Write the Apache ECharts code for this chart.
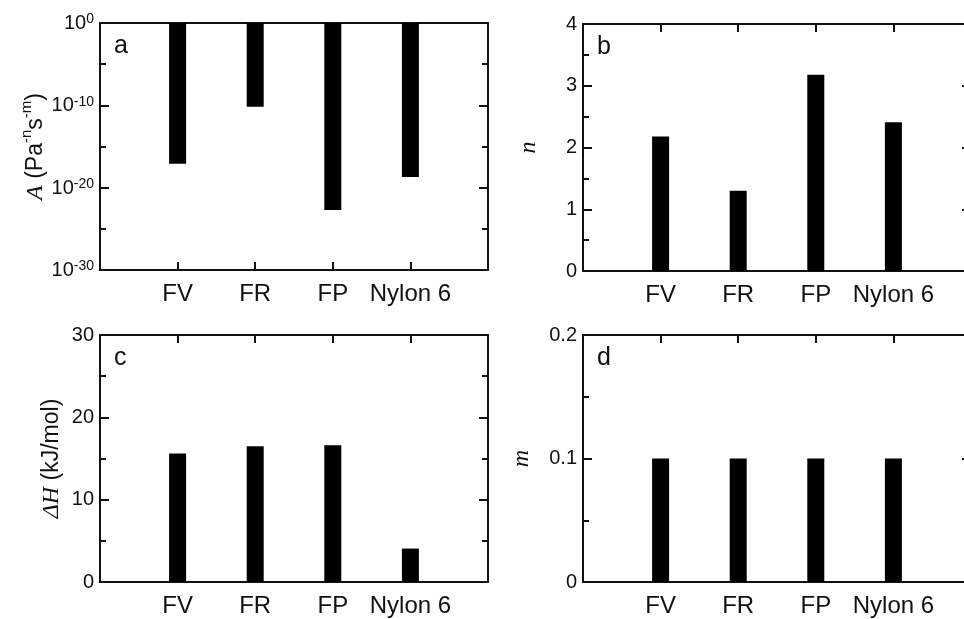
<!DOCTYPE html>
<html><head><meta charset="utf-8">
<script src="https://cdn.jsdelivr.net/npm/echarts@6/dist/echarts.min.js"></script>
<style>html,body{margin:0;padding:0;background:#fff}#c{width:964px;height:619px}</style>
</head><body><div id="c"></div><script>
// ---- data ----
const categories = ['FV', 'FR', 'FP', 'Nylon 6'];
const aValues = [7.9e-18, 6.6e-11, 2.0e-23, 2.0e-19];   // A (Pa^-n s^-m)
const nValues = [2.18, 1.30, 3.18, 2.41];               // n
const dHValues = [15.6, 16.5, 16.6, 4.06];              // ΔH (kJ/mol)
const mValues = [0.1, 0.1, 0.1, 0.1];                   // m
const panelLetters = ['a', 'b', 'c', 'd'];

// ---- styling ----
const SANS = 'Liberation Sans, Arial, sans-serif';
const SERIF = 'Liberation Serif, Times New Roman, serif';
const INK = '#111';
const line = {color: INK, width: 2};
const padded = ['', ...categories, ''];
const padData = arr => ['-', ...arr, '-'];

const grids = [
  {left: 100, top: 23, width: 388, height: 247, outerBoundsMode: 'none'},
  {left: 583, top: 24, width: 388, height: 247, outerBoundsMode: 'none'},
  {left: 100, top: 335, width: 388, height: 247, outerBoundsMode: 'none'},
  {left: 583, top: 335, width: 388, height: 247, outerBoundsMode: 'none'}
];

const supRich = {
  b: {fontSize: 20, fontFamily: SANS, color: INK, lineHeight: 21, verticalAlign: 'bottom'},
  s: {fontSize: 14, fontFamily: SANS, color: INK, lineHeight: 20, verticalAlign: 'top'}
};

const panels = [
  {
    values: aValues.map(v => Math.log10(v)), min: -30, max: 0, interval: 10,
    formatter: v => '{b|10}{s|' + v + '}', rich: supRich, labelLineHeight: 29,
    name: '{i|A}{t| (Pa}{s|-n}{t|s}{s|-m}{t|)}', nameGap: 48,
    nameRich: {
      i: {fontFamily: SERIF, fontStyle: 'italic', fontSize: 24, color: INK, lineHeight: 28, verticalAlign: 'bottom'},
      t: {fontFamily: SANS, fontSize: 23, color: INK, lineHeight: 28, verticalAlign: 'bottom'},
      s: {fontFamily: SANS, fontSize: 15, color: INK, lineHeight: 24, verticalAlign: 'top'}
    }
  },
  {
    values: nValues, min: 0, max: 4, interval: 1,
    name: '{i|n}', nameGap: 42,
    nameRich: {i: {fontFamily: SERIF, fontStyle: 'italic', fontSize: 24, color: INK}}
  },
  {
    values: dHValues, min: 0, max: 30, interval: 10,
    name: '{i|ΔH}{t| (kJ/mol)}', nameGap: 36,
    nameRich: {
      i: {fontFamily: SERIF, fontStyle: 'italic', fontSize: 24, color: INK},
      t: {fontFamily: SANS, fontSize: 23, color: INK}
    }
  },
  {
    values: mValues, min: 0, max: 0.2, interval: 0.1,
    name: '{i|m}', nameGap: 49,
    nameRich: {i: {fontFamily: SERIF, fontStyle: 'italic', fontSize: 24, color: INK}}
  }
];

const xAxis = [], yAxis = [], series = [], title = [];
panels.forEach((p, g) => {
  const xBase = {
    gridIndex: g, type: 'category', data: padded, boundaryGap: false,
    axisLine: {show: true, onZero: false, lineStyle: line},
    axisTick: {show: true, inside: true, length: 8, interval: 0, lineStyle: line},
    splitLine: {show: false}
  };
  xAxis.push(Object.assign({}, xBase, {
    position: 'bottom',
    axisLabel: {show: true, interval: 0, fontSize: 24, fontFamily: SANS, color: INK, margin: 12}
  }));
  xAxis.push(Object.assign({}, xBase, {position: 'top', axisLabel: {show: false}}));

  const yBase = {
    gridIndex: g, type: 'value', min: p.min, max: p.max, interval: p.interval,
    axisLine: {show: true, onZero: false, lineStyle: line},
    axisTick: {show: true, inside: true, length: 9, lineStyle: line},
    minorTick: {show: true, splitNumber: 2, length: 6, lineStyle: line},
    splitLine: {show: false}, minorSplitLine: {show: false}
  };
  yAxis.push(Object.assign({}, yBase, {
    position: 'left',
    axisLabel: Object.assign({show: true, fontSize: 20, fontFamily: SANS, color: INK, margin: 6},
      p.formatter ? {formatter: p.formatter, rich: p.rich, lineHeight: p.labelLineHeight} : {}),
    name: p.name, nameLocation: 'middle', nameGap: p.nameGap, nameRotate: 90,
    nameTextStyle: {fontFamily: SANS, fontSize: 23, color: INK, rich: p.nameRich}
  }));
  yAxis.push(Object.assign({}, yBase, {position: 'right', axisLabel: {show: false}}));

  series.push({
    type: 'bar', xAxisIndex: 2 * g, yAxisIndex: 2 * g,
    data: padData(p.values), barWidth: 17, silent: true,
    itemStyle: {color: '#000'}
  });

  title.push({
    text: panelLetters[g], left: grids[g].left + 14, top: grids[g].top + 11, padding: 0,
    textStyle: {fontFamily: SANS, fontSize: 25, fontWeight: 'normal', color: INK}
  });
});

const chart = echarts.init(document.getElementById('c'), null, {renderer: 'canvas'});
chart.setOption({
  animation: false,
  backgroundColor: '#fff',
  title: title,
  grid: grids,
  xAxis: xAxis,
  yAxis: yAxis,
  series: series
});
</script></body></html>
